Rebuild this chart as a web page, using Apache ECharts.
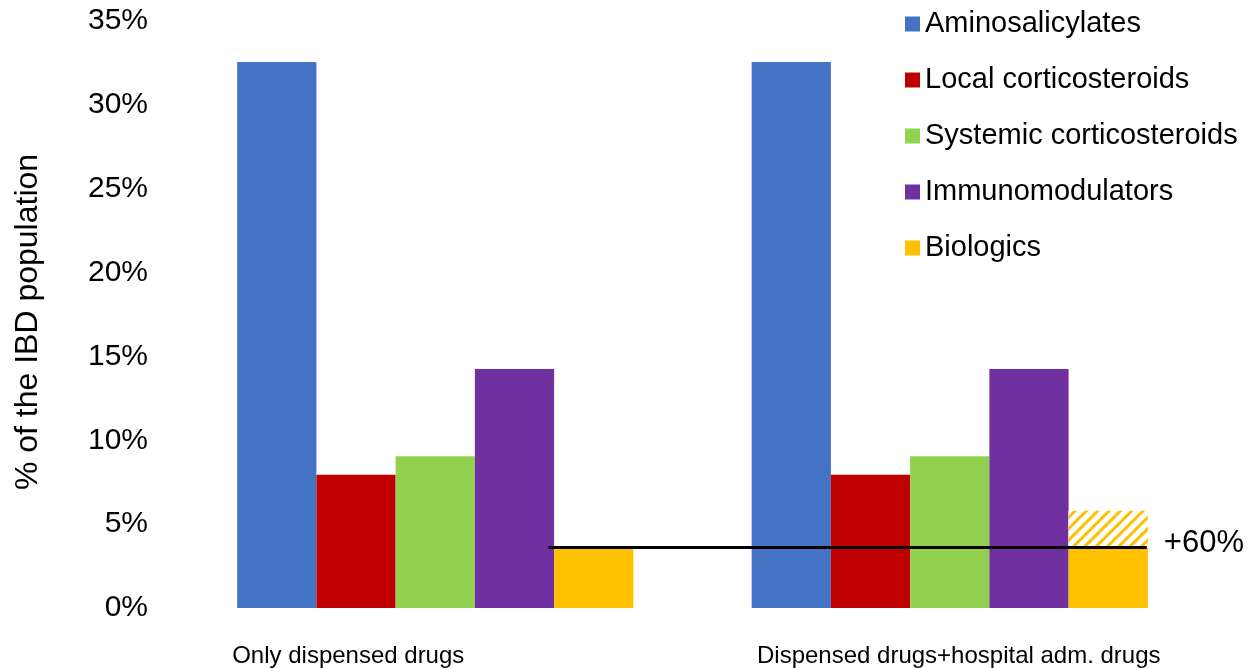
<!DOCTYPE html>
<html>
<head>
<meta charset="utf-8">
<script src="https://cdn.jsdelivr.net/npm/echarts@6/dist/echarts.min.js"></script>
<style>
  html, body { margin: 0; padding: 0; background: #fff; }
  #chart { width: 1249px; height: 668px; }
</style>
</head>
<body>
<div id="chart"></div>
<script>
// Share of the IBD population treated, per drug class and data source
const categories = ['Only dispensed drugs', 'Dispensed drugs+hospital adm. drugs'];
const aminosalicylates = [32.55, 32.55];
const localCorticosteroids = [7.95, 7.95];
const systemicCorticosteroids = [9.05, 9.05];
const immunomodulators = [14.25, 14.25];
const biologics = [3.6, 3.6];
const biologicsHospitalExtra = ['-', 2.2];   // added by hospital-administered drugs
const yTicks = [0, 5, 10, 15, 20, 25, 30, 35];
const increaseLabel = '+60%';
// reference line at the dispensed-only biologics level (x on the hidden 0..2 value axis)
const refLineX = [0.72, 1.883];

const colors = {
  blue: '#4472C4', red: '#C00000', green: '#92D050', purple: '#7030A0', yellow: '#FFC000'
};
const FONT = 'Liberation Sans, Arial, sans-serif';

const chart = echarts.init(document.getElementById('chart'), null, { renderer: 'canvas' });

function barSeries(name, data, color, extra) {
  return Object.assign({
    name: name,
    type: 'bar',
    data: data,
    barGap: '0%',
    barCategoryGap: '23%',
    itemStyle: { color: color },
    emphasis: { disabled: true }
  }, extra || {});
}

chart.setOption({
  animation: false,
  textStyle: { fontFamily: FONT },
  grid: { left: 178, right: 42, top: 21, bottom: 60 },
  legend: {
    data: ['Aminosalicylates', 'Local corticosteroids', 'Systemic corticosteroids', 'Immunomodulators', 'Biologics'],
    orient: 'vertical',
    left: 900,
    top: 4,
    itemWidth: 15,
    itemHeight: 15,
    itemGap: 26,
    icon: 'rect',
    selectedMode: false,
    textStyle: { fontSize: 29, color: '#000', fontFamily: FONT, lineHeight: 30 }
  },
  xAxis: [
    {
      type: 'category',
      data: categories,
      axisLine: { show: false },
      axisTick: { show: false },
      axisLabel: {
        interval: 0,
        hideOverlap: false,
        margin: 36,
        color: '#000',
        fontSize: 24,
        fontFamily: FONT,
        formatter: function (v, i) { return '{g' + i + '|' + v + '}'; },
        rich: {
          g0: { fontSize: 24, fontFamily: FONT, color: '#000', padding: [0, 174, 0, 0] },
          g1: { fontSize: 24, fontFamily: FONT, color: '#000', padding: [0, 0, 0, 18] }
        }
      }
    },
    { type: 'value', min: 0, max: 2, show: false }
  ],
  yAxis: {
    type: 'value',
    min: yTicks[0],
    max: yTicks[yTicks.length - 1],
    interval: 5,
    name: '% of the IBD population',
    nameLocation: 'middle',
    nameRotate: 90,
    nameGap: 134,
    nameTextStyle: { fontSize: 32, color: '#000', fontFamily: FONT, padding: [0, 0, 0, -15] },
    splitLine: { show: false },
    axisLine: { show: false },
    axisTick: { show: false },
    axisLabel: { formatter: '{value}%', fontSize: 30, color: '#000', margin: 30, fontFamily: FONT }
  },
  series: [
    barSeries('Aminosalicylates', aminosalicylates, colors.blue),
    barSeries('Local corticosteroids', localCorticosteroids, colors.red),
    barSeries('Systemic corticosteroids', systemicCorticosteroids, colors.green),
    barSeries('Immunomodulators', immunomodulators, colors.purple),
    barSeries('Biologics', biologics, colors.yellow, { stack: 'bio' }),
    barSeries('Biologics hospital adm.', biologicsHospitalExtra, '#ffffff', {
      stack: 'bio',
      itemStyle: {
        color: '#ffffff',
        decal: {
          symbol: 'rect',
          color: colors.yellow,
          backgroundColor: '#ffffff',
          dashArrayX: [1, 0],
          dashArrayY: [3, 5],
          rotation: -Math.PI / 4
        }
      }
    }),
    {
      name: 'Biologics level',
      type: 'line',
      xAxisIndex: 1,
      data: [[refLineX[0], biologics[0]], [refLineX[1], biologics[1]]],
      symbol: 'none',
      lineStyle: { color: '#000', width: 3 },
      z: 5,
      silent: true,
      endLabel: {
        show: true,
        formatter: increaseLabel,
        distance: 17,
        fontSize: 31,
        color: '#000',
        fontFamily: FONT,
        offset: [0, -4]
      }
    }
  ]
});
</script>
</body>
</html>
